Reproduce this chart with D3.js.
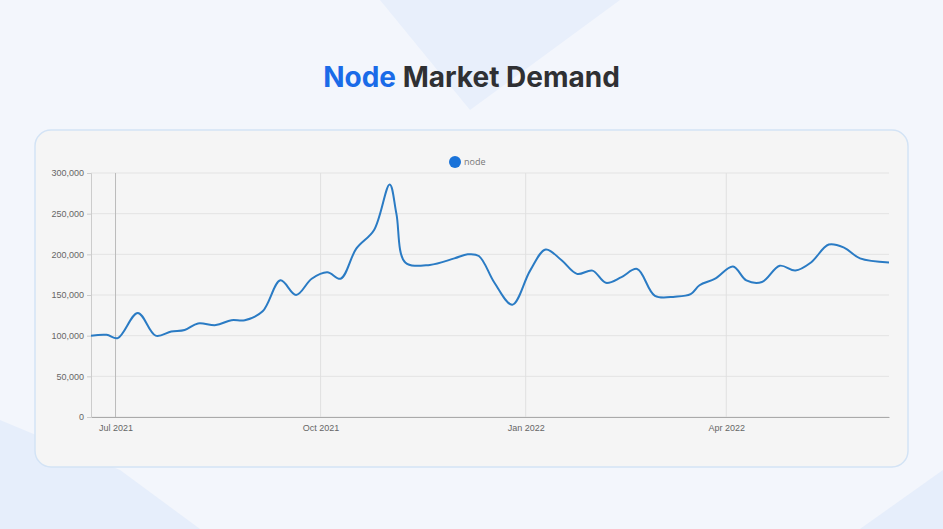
<!DOCTYPE html>
<html>
<head>
<meta charset="utf-8">
<script src="https://cdn.jsdelivr.net/npm/d3@7"></script>
<style>
  body { margin: 0; background: #f3f6fc; font-family: "Open Sans", sans-serif; }
</style>
</head>
<body>
<div id="chartContainer"></div>
<script>
// Weekly demand series
const dates = ["2021-06-20","2021-06-27","2021-07-02","2021-07-11","2021-07-19","2021-07-26","2021-08-01","2021-08-07","2021-08-15","2021-08-22","2021-08-28","2021-09-05","2021-09-13","2021-09-20","2021-09-27","2021-10-04","2021-10-10","2021-10-17","2021-10-25","2021-11-01","2021-11-04","2021-11-08","2021-11-19","2021-11-30","2021-12-06","2021-12-11","2021-12-18","2021-12-26","2022-01-03","2022-01-10","2022-01-17","2022-01-24","2022-01-31","2022-02-06","2022-02-13","2022-02-20","2022-02-28","2022-03-09","2022-03-16","2022-03-20","2022-03-27","2022-04-04","2022-04-10","2022-04-17","2022-04-25","2022-05-02","2022-05-09","2022-05-17","2022-05-24","2022-05-31","2022-06-13"];
const values = [100000,101000,97000,128000,100000,105000,107000,115000,113000,119000,119000,130000,168000,150000,170000,178000,170000,207000,230000,286000,250000,190000,187000,195000,200000,198000,165000,138000,180000,206000,193000,176000,180000,165000,172000,182000,149000,148000,151000,162000,170000,185000,168000,166000,186000,180000,190000,212000,208000,195000,190000];
const yTicks = [0,50000,100000,150000,200000,250000,300000];
const xTicks = ["2021-07-01","2021-10-01","2022-01-01","2022-04-01"];

const width = 943, height = 529;
const marginLeft = 91, marginRight = 54, marginTop = 173, marginBottom = 112;

const parse = d3.utcParse("%Y-%m-%d");
const data = dates.map((d, i) => ({date: parse(d), value: values[i]}));

const svg = d3.select("#chartContainer").append("svg")
  .attr("width", width).attr("height", height);

// background shapes
svg.append("rect").attr("width", width).attr("height", height).attr("fill", "#f3f6fc");
svg.append("path").attr("d", "M380,0 L620,0 L470,110 Z").attr("fill", "#e8effb");
svg.append("path").attr("d", "M0,420 L120,470 L200,529 L0,529 Z").attr("fill", "#e6eefb");
svg.append("path").attr("d", "M860,529 L943,470 L943,529 Z").attr("fill", "#e6eefb");

// title
const title = svg.append("text").attr("x", width / 2).attr("y", 87)
  .attr("text-anchor", "middle").attr("font-family", "Inter, sans-serif")
  .attr("font-size", 28).attr("font-weight", 700);
title.append("tspan").attr("fill", "#1a6be8").text("Node");
title.append("tspan").attr("fill", "#2f3033").text(" Market Demand");

// card
svg.append("rect").attr("x", 35).attr("y", 130).attr("width", 873).attr("height", 337)
  .attr("rx", 16).attr("fill", "#f5f5f5").attr("stroke", "#d3e3f5").attr("stroke-width", 1.5);

const x = d3.scaleUtc([parse("2021-06-20"), parse("2022-06-13")], [marginLeft, width - marginRight]);
const y = d3.scaleLinear([0, 300000], [height - marginBottom, marginTop]);

// grid
svg.append("g").selectAll("line").data(yTicks).join("line")
  .attr("x1", marginLeft).attr("x2", width - marginRight)
  .attr("y1", d => y(d)).attr("y2", d => y(d))
  .attr("stroke", "#e3e3e3");
svg.append("g").selectAll("line").data(xTicks).join("line")
  .attr("x1", d => x(parse(d))).attr("x2", d => x(parse(d)))
  .attr("y1", marginTop).attr("y2", height - marginBottom)
  .attr("stroke", (d, i) => i === 0 ? "#bbb" : "#e0e0e0");

// axes
svg.append("g")
  .attr("transform", `translate(0,${height - marginBottom})`)
  .call(d3.axisBottom(x).tickValues(xTicks.map(parse)).tickFormat(d3.utcFormat("%b %Y")).tickSize(0).tickPadding(8))
  .call(g => g.select(".domain").attr("stroke", "#aaa"))
  .call(g => g.selectAll("text").attr("fill", "#666").attr("font-size", 9));

svg.append("g")
  .attr("transform", `translate(${marginLeft},0)`)
  .call(d3.axisLeft(y).tickValues(yTicks).tickFormat(d3.format(",")).tickSize(4).tickPadding(3))
  .call(g => g.select(".domain").attr("stroke", "#ccc"))
  .call(g => g.selectAll(".tick line").attr("stroke", "#ccc"))
  .call(g => g.selectAll("text").attr("fill", "#666").attr("font-size", 9));

// legend
svg.append("circle").attr("cx", 455).attr("cy", 162).attr("r", 6).attr("fill", "#1a73d9");
svg.append("text").attr("x", 464).attr("y", 165).attr("font-size", 9).attr("fill", "#777").text("node");

// line
const line = d3.line().x(d => x(d.date)).y(d => y(d.value)).curve(d3.curveCatmullRom.alpha(0.5));
svg.append("path")
  .attr("fill", "none").attr("stroke", "#2a7bc4").attr("stroke-width", 2)
  .attr("d", line(data));
</script>
</body>
</html>
